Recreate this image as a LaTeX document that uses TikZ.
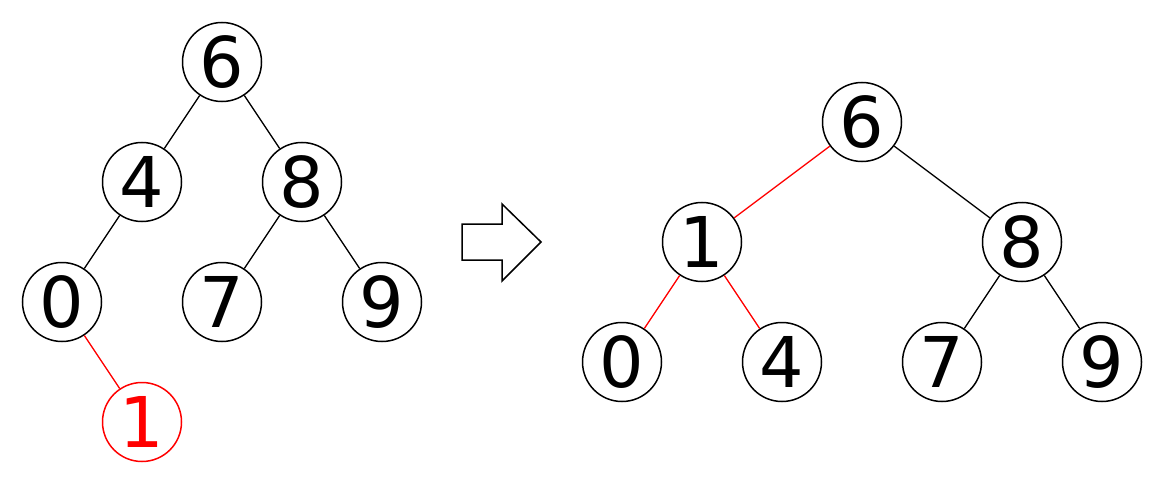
\documentclass[tikz,border=0pt]{standalone}
\usepackage{fontspec}
\setmainfont{DejaVu Sans}
\begin{document}
\begin{tikzpicture}[x=1pt,y=-1pt,
  vertex/.style={circle,draw=black,line width=1.5pt,minimum size=79pt,inner sep=0pt,
    font=\fontsize{70}{70}\selectfont},
  hot/.style={draw=red,text=red},
  edge/.style={line width=1.3pt,draw=black},
  hotedge/.style={line width=1.3pt,draw=red}]
\useasboundingbox (0,0) rectangle (1162,484);
% tree before the insertion
\node[vertex] (l6) at (222,62) {6};
\node[vertex] (l4) at (142,182) {4};
\node[vertex] (l8) at (302,182) {8};
\node[vertex] (l0) at (62,302) {0};
\node[vertex] (l7) at (222,302) {7};
\node[vertex] (l9) at (382,302) {9};
\node[vertex,hot] (l1) at (142,422) {1};
\draw[edge] (l6) -- (l4);
\draw[edge] (l6) -- (l8);
\draw[edge] (l4) -- (l0);
\draw[edge] (l8) -- (l7);
\draw[edge] (l8) -- (l9);
\draw[hotedge] (l0) -- (l1);
% hollow arrow
\draw[line width=1.5pt,line join=miter] (462,224) -- (502,224) -- (502,204) -- (541,242)
  -- (502,281) -- (502,260) -- (462,260) -- cycle;
% tree after rebalancing
\node[vertex] (r6) at (862,122) {6};
\node[vertex] (r1) at (702,242) {1};
\node[vertex] (r8) at (1022,242) {8};
\node[vertex] (r0) at (622,362) {0};
\node[vertex] (r4) at (782,362) {4};
\node[vertex] (r7) at (942,362) {7};
\node[vertex] (r9) at (1102,362) {9};
\draw[hotedge] (r6) -- (r1);
\draw[edge] (r6) -- (r8);
\draw[hotedge] (r1) -- (r0);
\draw[hotedge] (r1) -- (r4);
\draw[edge] (r8) -- (r7);
\draw[edge] (r8) -- (r9);
\end{tikzpicture}
\end{document}
